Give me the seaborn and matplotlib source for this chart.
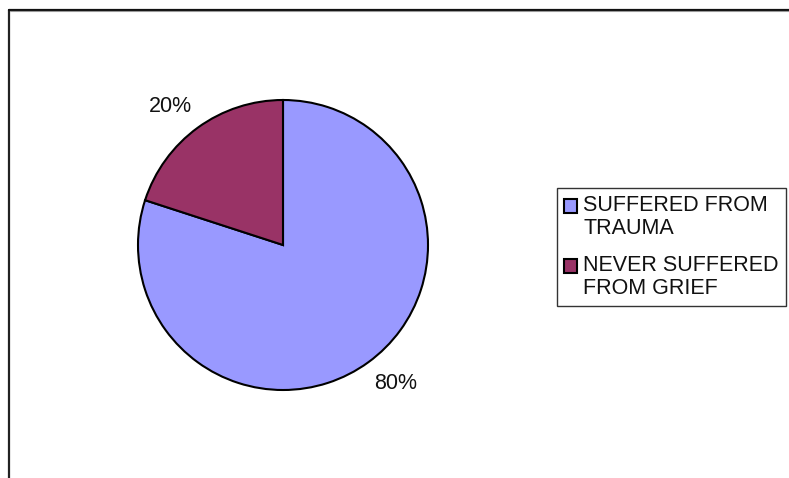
import matplotlib
matplotlib.use("Agg")
import numpy as np
import matplotlib.pyplot as plt
import matplotlib.patches as mpatches
from matplotlib.legend_handler import HandlerPatch
from matplotlib.lines import Line2D
import seaborn as sns

# Survey result shares
categories = ["SUFFERED FROM\nTRAUMA", "NEVER SUFFERED\nFROM GRIEF"]
shares = [80, 20]
colors = ["#9999FF", "#993366"]

sns.set_theme(style="white")
plt.rcParams["font.family"] = ["Liberation Sans", "DejaVu Sans"]

W, H = 789, 478
fig = plt.figure(figsize=(W / 100, H / 100), dpi=100)
fig.patch.set_facecolor("white")


def fx(px):
    return px / W


def fy(py):
    return 1 - py / H


# Chart area frame (top and left edges visible)
fig.add_artist(Line2D([fx(8.5), fx(8.5)], [fy(9.5), fy(480)], color="#222222", lw=1.6))
fig.add_artist(Line2D([fx(8.5), fx(792)], [fy(9.5), fy(9.5)], color="#111111", lw=1.6))
fig.add_artist(Line2D([fx(10), fx(792)], [fy(11), fy(11)], color="#999999", lw=0.8))

# Pie plot area
cx, cy, r = 283, 245, 145
ax = fig.add_axes([fx(cx - r), fy(cy + r), 2 * r / W, 2 * r / H])
wedges, texts, autotexts = ax.pie(
    shares,
    colors=colors,
    startangle=90,
    counterclock=False,
    autopct="%1.0f%%",
    pctdistance=1.23,
    wedgeprops=dict(edgecolor="black", linewidth=1.5),
    textprops=dict(fontsize=15.5, color="#111111"),
)
# nudge percentage labels slightly counter-clockwise around the pie
rot = np.deg2rad(3)
for t in autotexts:
    x, y = t.get_position()
    t.set_position((x * np.cos(rot) - y * np.sin(rot), x * np.sin(rot) + y * np.cos(rot)))
ax.set_xlim(-1, 1)
ax.set_ylim(-1, 1)
ax.set_aspect("auto")
ax.axis("off")


# Legend swatches sit beside the first line of each two-line label
def top_square(legend, orig_handle, xdescent, ydescent, width, height, fontsize):
    return mpatches.Rectangle((-xdescent, -ydescent + 0.54 * fontsize), width, height)


handles = [mpatches.Patch(facecolor=c, edgecolor="black", linewidth=1.5) for c in colors]
leg = fig.legend(
    handles,
    categories,
    loc="upper left",
    bbox_to_anchor=(fx(557), fy(188)),
    frameon=True,
    fancybox=False,
    fontsize=15.5,
    handlelength=0.62,
    handleheight=0.62,
    handletextpad=0.28,
    borderpad=0.32,
    labelspacing=0.75,
    borderaxespad=0,
    handler_map={mpatches.Patch: HandlerPatch(patch_func=top_square)},
)
for t in leg.get_texts():
    t.set_linespacing(1.12)
    t.set_color("#111111")
frame = leg.get_frame()
frame.set_edgecolor("black")
frame.set_linewidth(1.0)

fig.savefig("out.png", dpi=100)
